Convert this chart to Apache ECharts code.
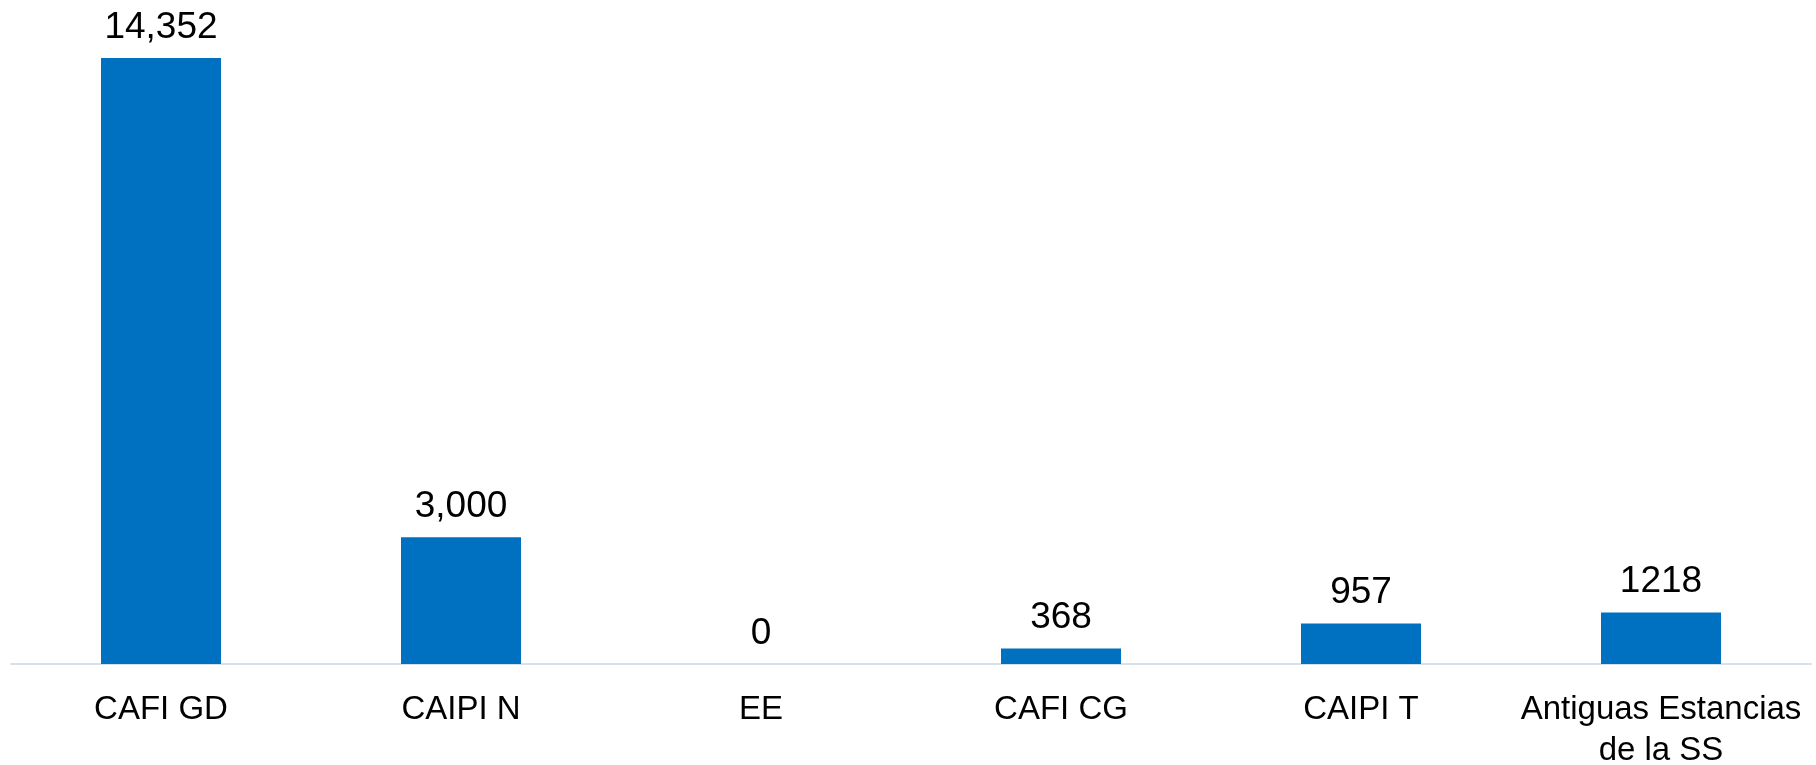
<!DOCTYPE html>
<html>
<head>
<meta charset="utf-8">
<script src="https://cdn.jsdelivr.net/npm/echarts@6/dist/echarts.min.js"></script>
<style>
html,body{margin:0;padding:0;background:#fff;}
#chart{width:1816px;height:765px;}
</style>
</head>
<body>
<div id="chart"></div>
<script>
const categories = ["CAFI GD", "CAIPI N", "EE", "CAFI CG", "CAIPI T", "Antiguas Estancias\nde la SS"];
const values = [14352, 3000, 0, 368, 957, 1218];
const valueLabels = ["14,352", "3,000", "0", "368", "957", "1218"];

const chart = echarts.init(document.getElementById('chart'));
chart.setOption({
  animation: false,
  grid: { left: 11, right: 5, top: 58, bottom: 101, containLabel: false, outerBoundsMode: 'none' },
  xAxis: {
    type: 'category',
    data: categories,
    axisLine: { show: true, lineStyle: { color: '#dae0e7', width: 2 } },
    axisTick: { show: false },
    axisLabel: {
      interval: 0,
      margin: 25,
      color: '#000',
      fontFamily: 'Liberation Sans',
      fontSize: 33,
      lineHeight: 41
    }
  },
  yAxis: {
    type: 'value',
    min: 0,
    max: 14352,
    show: false,
    splitLine: { show: false }
  },
  series: [{
    type: 'bar',
    data: values,
    barWidth: 120,
    itemStyle: { color: '#0070C0' },
    label: {
      show: true,
      position: 'top',
      distance: 12,
      color: '#000',
      fontFamily: 'Liberation Sans',
      fontSize: 37,
      formatter: p => valueLabels[p.dataIndex]
    }
  }]
});
</script>
</body>
</html>
